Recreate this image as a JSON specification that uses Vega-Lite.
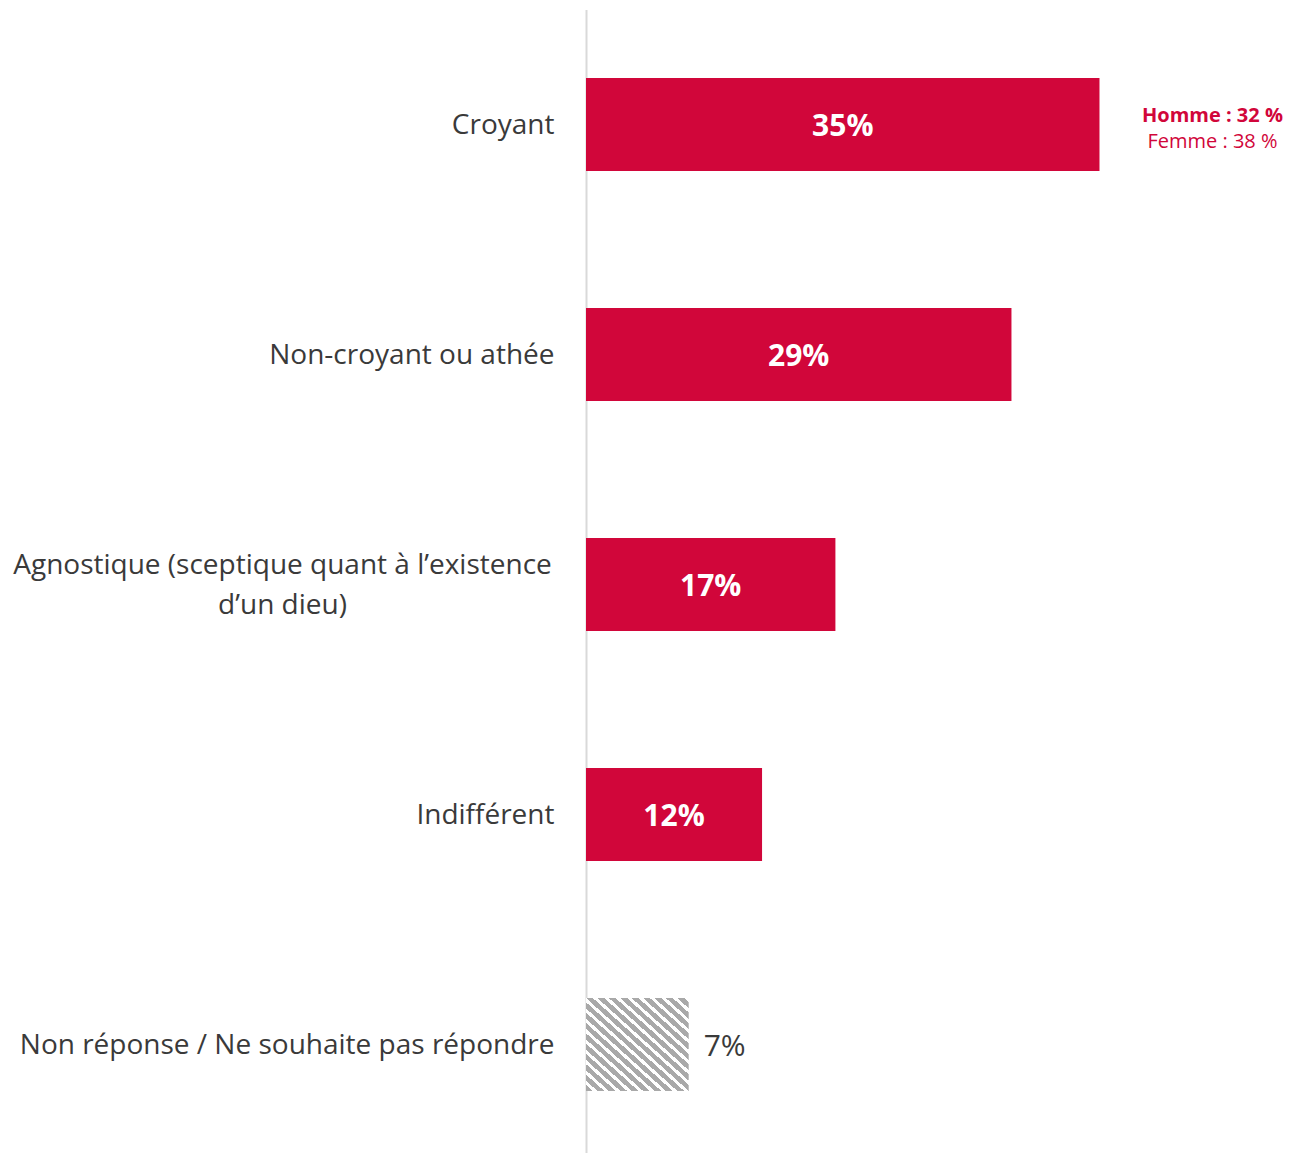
{
  "$schema": "https://vega.github.io/schema/vega-lite/v6.json",
  "autosize": "none",
  "padding": {"left": 586, "top": 9.5, "right": 0, "bottom": 0},
  "width": 718,
  "height": 1150,
  "background": "#ffffff",
  "config": {"view": {"stroke": null}, "font": "Open Sans"},
  "data": {"values": [
    {"category": "Croyant", "value": 35, "label": "35%", "type": "main"},
    {"category": "Non-croyant ou athée", "value": 29, "label": "29%", "type": "main"},
    {"category": "Agnostique (sceptique quant à l’existence d’un dieu)", "value": 17, "label": "17%", "type": "main"},
    {"category": "Indifférent", "value": 12, "label": "12%", "type": "main"},
    {"category": "Non réponse / Ne souhaite pas répondre", "value": 7, "label": "7%", "type": "nr"}
  ]},
  "resolve": {"scale": {"x": "independent"}},
  "encoding": {
    "y": {"field": "category", "type": "nominal", "sort": null,
      "scale": {"paddingInner": 0.596, "paddingOuter": 0.298},
      "axis": {"title": null, "ticks": false, "domainColor": "#d9d9d9", "domainWidth": 2,
        "labelFont": "Open Sans", "labelFontSize": 28, "labelColor": "#3a3a3a", "labelLimit": 700,
        "labelLineHeight": 40,
        "labelAlign": {"condition": {"test": "indexof(datum.value, 'Agnostique') == 0", "value": "center"}, "value": "right"},
        "labelPadding": {"condition": {"test": "indexof(datum.value, 'Agnostique') == 0", "value": 304}, "value": 32},
        "labelOffset": {"condition": {"test": "indexof(datum.value, 'Agnostique') == 0", "value": -19}, "value": 1},
        "labelExpr": "indexof(datum.value, 'Agnostique') == 0 ? ['Agnostique (sceptique quant à l’existence', 'd’un dieu)'] : datum.value"}}
  },
  "layer": [
    {
      "transform": [{"filter": "datum.type == 'main'"}],
      "mark": {"type": "bar", "color": "#D1063A"},
      "encoding": {"x": {"field": "value", "type": "quantitative", "scale": {"domain": [0, 48.94], "nice": false}, "axis": null}}
    },
    {
      "transform": [{"filter": "datum.type == 'nr'"}],
      "mark": {"type": "bar", "color": {"gradient": "linear", "x1": 0, "y1": 1, "x2": 1, "y2": 0, "stops": [
        {"offset": 0.0, "color": "#a9a9a9"}, {"offset": 0.033, "color": "#a9a9a9"}, {"offset": 0.033, "color": "#ffffff"}, {"offset": 0.0556, "color": "#ffffff"},
        {"offset": 0.0556, "color": "#a9a9a9"}, {"offset": 0.0889, "color": "#a9a9a9"}, {"offset": 0.0889, "color": "#ffffff"}, {"offset": 0.1111, "color": "#ffffff"},
        {"offset": 0.1111, "color": "#a9a9a9"}, {"offset": 0.1444, "color": "#a9a9a9"}, {"offset": 0.1444, "color": "#ffffff"}, {"offset": 0.1667, "color": "#ffffff"},
        {"offset": 0.1667, "color": "#a9a9a9"}, {"offset": 0.2, "color": "#a9a9a9"}, {"offset": 0.2, "color": "#ffffff"}, {"offset": 0.2222, "color": "#ffffff"},
        {"offset": 0.2222, "color": "#a9a9a9"}, {"offset": 0.2556, "color": "#a9a9a9"}, {"offset": 0.2556, "color": "#ffffff"}, {"offset": 0.2778, "color": "#ffffff"},
        {"offset": 0.2778, "color": "#a9a9a9"}, {"offset": 0.3111, "color": "#a9a9a9"}, {"offset": 0.3111, "color": "#ffffff"}, {"offset": 0.3333, "color": "#ffffff"},
        {"offset": 0.3333, "color": "#a9a9a9"}, {"offset": 0.3667, "color": "#a9a9a9"}, {"offset": 0.3667, "color": "#ffffff"}, {"offset": 0.3889, "color": "#ffffff"},
        {"offset": 0.3889, "color": "#a9a9a9"}, {"offset": 0.4222, "color": "#a9a9a9"}, {"offset": 0.4222, "color": "#ffffff"}, {"offset": 0.4444, "color": "#ffffff"},
        {"offset": 0.4444, "color": "#a9a9a9"}, {"offset": 0.4778, "color": "#a9a9a9"}, {"offset": 0.4778, "color": "#ffffff"}, {"offset": 0.5, "color": "#ffffff"},
        {"offset": 0.5, "color": "#a9a9a9"}, {"offset": 0.5333, "color": "#a9a9a9"}, {"offset": 0.5333, "color": "#ffffff"}, {"offset": 0.5556, "color": "#ffffff"},
        {"offset": 0.5556, "color": "#a9a9a9"}, {"offset": 0.5889, "color": "#a9a9a9"}, {"offset": 0.5889, "color": "#ffffff"}, {"offset": 0.6111, "color": "#ffffff"},
        {"offset": 0.6111, "color": "#a9a9a9"}, {"offset": 0.6444, "color": "#a9a9a9"}, {"offset": 0.6444, "color": "#ffffff"}, {"offset": 0.6667, "color": "#ffffff"},
        {"offset": 0.6667, "color": "#a9a9a9"}, {"offset": 0.7, "color": "#a9a9a9"}, {"offset": 0.7, "color": "#ffffff"}, {"offset": 0.7222, "color": "#ffffff"},
        {"offset": 0.7222, "color": "#a9a9a9"}, {"offset": 0.7556, "color": "#a9a9a9"}, {"offset": 0.7556, "color": "#ffffff"}, {"offset": 0.7778, "color": "#ffffff"},
        {"offset": 0.7778, "color": "#a9a9a9"}, {"offset": 0.8111, "color": "#a9a9a9"}, {"offset": 0.8111, "color": "#ffffff"}, {"offset": 0.8333, "color": "#ffffff"},
        {"offset": 0.8333, "color": "#a9a9a9"}, {"offset": 0.8667, "color": "#a9a9a9"}, {"offset": 0.8667, "color": "#ffffff"}, {"offset": 0.8889, "color": "#ffffff"},
        {"offset": 0.8889, "color": "#a9a9a9"}, {"offset": 0.9222, "color": "#a9a9a9"}, {"offset": 0.9222, "color": "#ffffff"}, {"offset": 0.9444, "color": "#ffffff"},
        {"offset": 0.9444, "color": "#a9a9a9"}, {"offset": 0.9778, "color": "#a9a9a9"}, {"offset": 0.9778, "color": "#ffffff"}, {"offset": 1.0, "color": "#ffffff"}
      ]}},
      "encoding": {"x": {"field": "value", "type": "quantitative", "scale": {"domain": [0, 48.94], "nice": false}, "axis": null}}
    },
    {
      "transform": [{"filter": "datum.type == 'main'"}],
      "mark": {"type": "text", "color": "#ffffff", "fontWeight": "bold", "fontSize": 30, "align": "center", "baseline": "middle", "dy": 2},
      "encoding": {
        "x": {"field": "value", "type": "quantitative", "scale": {"domain": [0, 97.88], "nice": false}, "axis": null},
        "text": {"field": "label"}
      }
    },
    {
      "transform": [{"filter": "datum.type == 'nr'"}],
      "mark": {"type": "text", "color": "#3a3a3a", "fontSize": 30, "align": "left", "baseline": "middle", "dx": 15, "dy": 2},
      "encoding": {
        "x": {"field": "value", "type": "quantitative", "scale": {"domain": [0, 48.94], "nice": false}, "axis": null},
        "text": {"field": "label"}
      }
    },
    {
      "data": {"values": [{"category": "Croyant", "line": "Homme : 32 %"}]},
      "mark": {"type": "text", "color": "#D1063A", "fontSize": 20, "fontWeight": "bold", "align": "center", "baseline": "middle", "dy": -9},
      "encoding": {
        "x": {"datum": 42.7, "type": "quantitative", "scale": {"domain": [0, 48.94], "nice": false}, "axis": null},
        "text": {"field": "line"}
      }
    },
    {
      "data": {"values": [{"category": "Croyant", "line": "Femme :  38 %"}]},
      "mark": {"type": "text", "color": "#D1063A", "fontSize": 20, "align": "center", "baseline": "middle", "dy": 17},
      "encoding": {
        "x": {"datum": 42.7, "type": "quantitative", "scale": {"domain": [0, 48.94], "nice": false}, "axis": null},
        "text": {"field": "line"}
      }
    }
  ]
}
